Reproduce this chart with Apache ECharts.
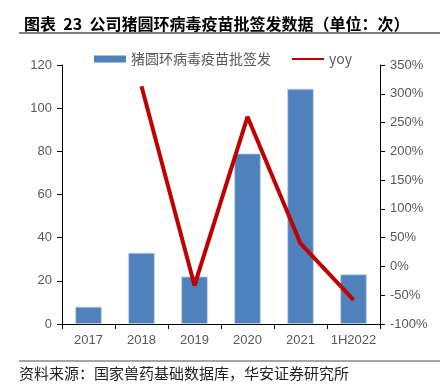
<!DOCTYPE html>
<html>
<head>
<meta charset="utf-8">
<script src="https://cdn.jsdelivr.net/npm/echarts@6/dist/echarts.min.js"></script>
<style>
  html, body { margin: 0; padding: 0; background: #fff; }
  #chart { width: 440px; height: 392px; }
</style>
</head>
<body>
<div id="chart"></div>
<script>
  // 批签发次数 + 同比
  const years = ["2017", "2018", "2019", "2020", "2021", "1H2022"];
  const batchCount = [8, 33, 22, 79, 109, 23];
  const yoy = [null, 313, -33, 260, 40, -58];

  const chart = echarts.init(document.getElementById("chart"));
  const cjk = "'Noto Sans CJK SC', sans-serif";
  const latin = "'Liberation Sans', Arial, sans-serif";

  const option = {
    animation: false,
    title: {
      text: "图表  23  公司猪圆环病毒疫苗批签发数据（单位：次）",
      left: 19,
      top: 11,
      textStyle: { fontFamily: cjk, fontSize: 16, fontWeight: "bold", color: "#000" },
    },
    graphic: [
      { type: "line", shape: { x1: 19, y1: 33, x2: 440, y2: 33 }, style: { stroke: "#555", lineWidth: 1.5 } },
      { type: "line", shape: { x1: 19, y1: 361, x2: 440, y2: 361 }, style: { stroke: "#a6a6a6", lineWidth: 2 } },
      {
        type: "text",
        left: 19,
        top: 366,
        style: { text: "资料来源：国家兽药基础数据库，华安证券研究所", font: "15px " + cjk, fill: "#222" },
      },
    ],
    legend: {
      left: 89,
      top: 47,
      itemGap: 20,
      itemWidth: 32,
      itemHeight: 7,
      textStyle: { fontFamily: cjk, fontSize: 14, color: "#595959" },
      data: [
        { name: "猪圆环病毒疫苗批签发", icon: "rect", itemStyle: { borderWidth: 0 } },
        { name: "yoy", itemStyle: { opacity: 0 } },
      ],
    },
    grid: { left: 62, right: 60, top: 65, bottom: 68 },
    xAxis: {
      type: "category",
      data: years,
      axisLine: { lineStyle: { color: "#000", width: 1 } },
      axisTick: { show: true, length: 5, lineStyle: { color: "#000" } },
      axisLabel: { interval: 0, margin: 10, fontFamily: latin, fontSize: 13, color: "#595959" },
    },
    yAxis: [
      {
        type: "value",
        min: 0,
        max: 120,
        interval: 20,
        axisLine: { show: true, lineStyle: { color: "#000" } },
        axisTick: { show: true, length: 5, lineStyle: { color: "#000" } },
        splitLine: { show: false },
        axisLabel: { margin: 10, fontFamily: latin, fontSize: 13, color: "#595959" },
      },
      {
        type: "value",
        min: -100,
        max: 350,
        interval: 50,
        position: "right",
        axisLine: { show: true, lineStyle: { color: "#000" } },
        axisTick: { show: true, length: 5, lineStyle: { color: "#000" } },
        splitLine: { show: false },
        axisLabel: { margin: 10, fontFamily: latin, fontSize: 13, color: "#595959", formatter: "{value}%" },
      },
    ],
    series: [
      {
        name: "猪圆环病毒疫苗批签发",
        type: "bar",
        data: batchCount,
        barWidth: "50%",
        itemStyle: { color: "#4f81bd", borderColor: "#c3d3ea", borderWidth: 0.8 },
        yAxisIndex: 0,
      },
      {
        name: "yoy",
        type: "line",
        data: yoy,
        yAxisIndex: 1,
        symbol: "none",
        itemStyle: { color: "#c00000" },
        lineStyle: { color: "#c00000", width: 4 },
      },
    ],
  };

  chart.setOption(option);
</script>
</body>
</html>
